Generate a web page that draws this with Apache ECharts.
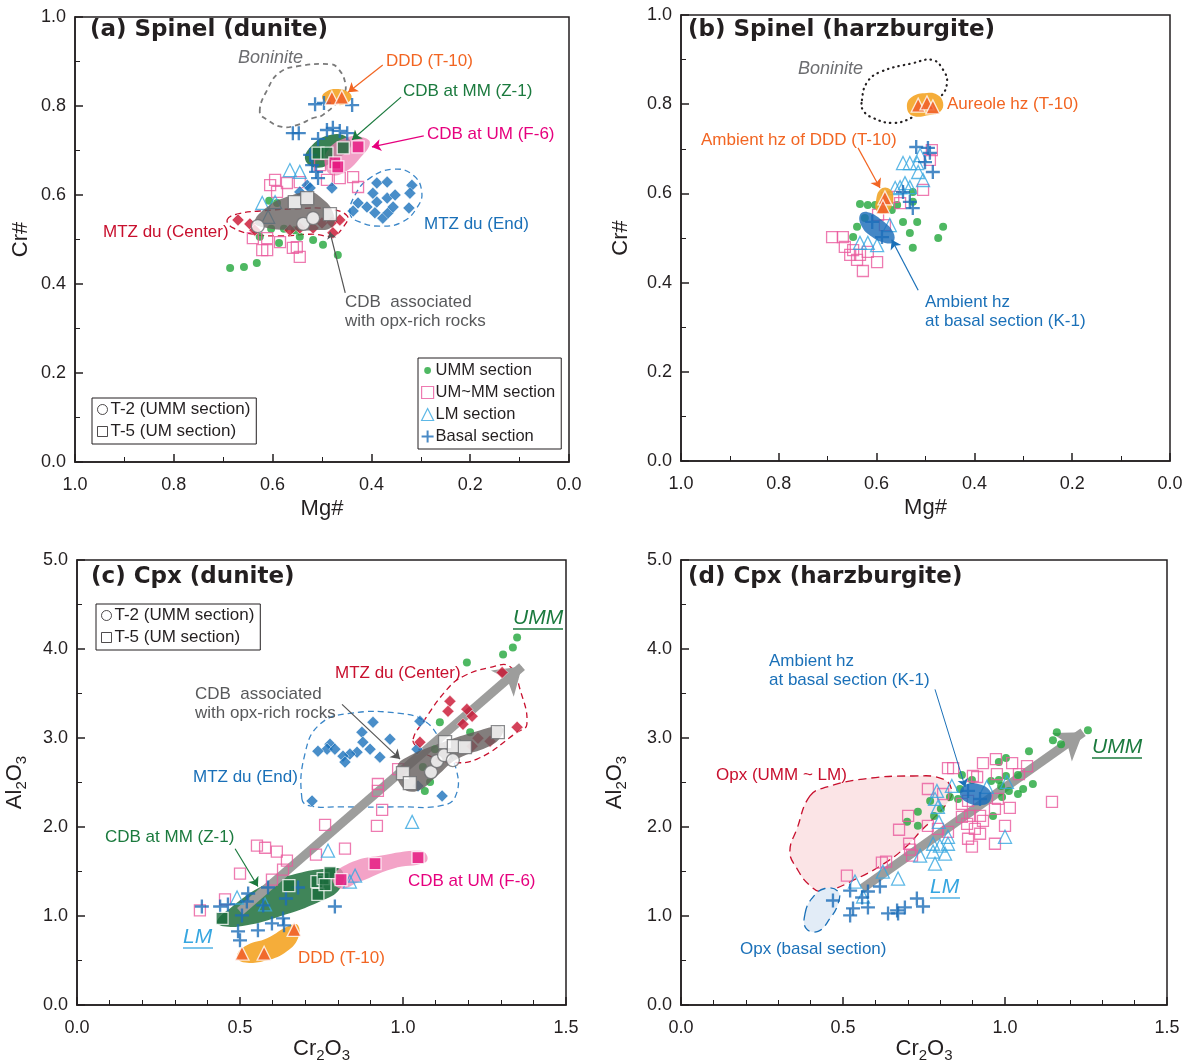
<!DOCTYPE html>
<html>
<head>
<meta charset="utf-8">
<script src="https://cdn.jsdelivr.net/npm/echarts@6/dist/echarts.min.js"></script>
<style>
  html, body { margin: 0; padding: 0; background: #fff; }
  #chart { width: 1194px; height: 1064px; }
</style>
</head>
<body>
<div id="chart"></div>
<script>
// ---------- (a) Spinel (dunite): [Mg#, Cr#] ----------
var aUMM = [[0.686,0.436],[0.658,0.438],[0.632,0.447],[0.607,0.587],[0.591,0.582],[0.603,0.524],[0.577,0.524],
  [0.626,0.506],[0.587,0.492],[0.545,0.506],[0.518,0.499],[0.498,0.488],[0.468,0.465],[0.555,0.521]];
var aUMMM = [[0.595,0.634],[0.571,0.627],[0.545,0.629],[0.490,0.634],[0.464,0.638],[0.437,0.640],[0.427,0.618],
  [0.611,0.503],[0.585,0.494],[0.611,0.476],[0.551,0.483],[0.545,0.461],[0.559,0.481],[0.591,0.607],[0.605,0.622],
  [0.474,0.672],[0.504,0.667],[0.640,0.503],[0.621,0.476]];
var aLM = [[0.565,0.656],[0.545,0.652],[0.621,0.582],[0.595,0.584],[0.609,0.551]];
var aBasal = [[0.514,0.804],[0.496,0.807],[0.439,0.802],[0.559,0.739],[0.547,0.739],[0.490,0.746],[0.478,0.751],
  [0.464,0.744],[0.449,0.739],[0.508,0.726],[0.524,0.690],[0.520,0.667],[0.512,0.652],[0.508,0.638]];
var aEnd = [[0.389,0.627],[0.368,0.629],[0.318,0.622],[0.397,0.604],[0.368,0.593],[0.352,0.600],[0.322,0.604],
  [0.427,0.582],[0.409,0.573],[0.389,0.584],[0.437,0.564],[0.393,0.560],[0.377,0.548],[0.366,0.560],[0.356,0.573],
  [0.324,0.571],[0.530,0.622],[0.524,0.616],[0.545,0.607],[0.480,0.616]];
var aCenter = [[0.670,0.544],[0.646,0.535],[0.636,0.521],[0.565,0.521],[0.545,0.526],[0.518,0.526],[0.500,0.537],
  [0.480,0.539],[0.464,0.544],[0.478,0.515]];
var aCdbMM = [[0.508,0.694],[0.490,0.694],[0.457,0.706]];
var aCdbUM = [[0.427,0.708],[0.474,0.672],[0.468,0.663]];
var aDDD = [[0.480,0.818],[0.460,0.820]];
var aT2 = [[0.630,0.530],[0.538,0.535],[0.518,0.548]];
var aT5 = [[0.555,0.584],[0.530,0.593],[0.484,0.557]];

var aBoninite = [[0.626,0.787],[0.611,0.836],[0.585,0.876],[0.545,0.890],[0.484,0.894],[0.468,0.885],[0.453,0.852],
  [0.457,0.825],[0.498,0.780],[0.518,0.773],[0.551,0.757],[0.581,0.753],[0.611,0.769]];
var aDDDzone = [[0.500,0.820],[0.490,0.833],[0.470,0.838],[0.448,0.832],[0.440,0.820],[0.450,0.806],[0.470,0.802],[0.490,0.807]];
var aCdbMMzone = [[0.534,0.679],[0.520,0.712],[0.484,0.735],[0.449,0.730],[0.443,0.706],[0.474,0.679],[0.508,0.661]];
var aCdbUMzone = [[0.488,0.701],[0.453,0.728],[0.419,0.730],[0.403,0.717],[0.423,0.683],[0.453,0.652],[0.480,0.645],[0.494,0.667]];
var aOpxZone = [[0.636,0.539],[0.611,0.573],[0.571,0.596],[0.524,0.607],[0.504,0.596],[0.478,0.562],[0.480,0.528],
  [0.518,0.521],[0.559,0.521],[0.611,0.526]];
var aCenterZone = [[0.692,0.544],[0.672,0.557],[0.626,0.564],[0.551,0.569],[0.490,0.569],[0.449,0.553],[0.457,0.528],
  [0.478,0.508],[0.518,0.512],[0.585,0.508],[0.640,0.512],[0.680,0.526]];
var aEndZone = [[0.443,0.557],[0.433,0.600],[0.403,0.638],[0.356,0.658],[0.316,0.645],[0.298,0.607],[0.308,0.571],
  [0.338,0.539],[0.383,0.530],[0.423,0.539]];

// ---------- (b) Spinel (harzburgite) ----------
var bUMM = [[0.634,0.576],[0.618,0.574],[0.603,0.574],[0.558,0.574],[0.526,0.603],[0.526,0.581],[0.569,0.563],
  [0.546,0.536],[0.517,0.536],[0.532,0.511],[0.464,0.525],[0.474,0.500],[0.526,0.478],[0.648,0.502],[0.640,0.525],[0.624,0.545]];
var bUMMM = [[0.691,0.502],[0.669,0.502],[0.665,0.480],[0.648,0.473],[0.654,0.462],[0.634,0.462],[0.640,0.451],
  [0.618,0.469],[0.599,0.446],[0.628,0.426],[0.579,0.590],[0.566,0.592],[0.552,0.578],[0.505,0.608],[0.491,0.675],
  [0.487,0.697],[0.597,0.552],[0.583,0.529]];
var bLM = [[0.546,0.668],[0.532,0.668],[0.517,0.668],[0.515,0.648],[0.542,0.623],[0.552,0.614],[0.562,0.612],
  [0.532,0.614],[0.505,0.630],[0.634,0.489],[0.618,0.489],[0.599,0.484],[0.573,0.529],[0.511,0.686]];
var bBasal = [[0.519,0.704],[0.495,0.702],[0.491,0.691],[0.501,0.670],[0.485,0.648],[0.546,0.603],[0.532,0.581],
  [0.526,0.567],[0.609,0.536],[0.589,0.502]];
var bDDD = [[0.515,0.798],[0.497,0.803],[0.485,0.794],[0.583,0.590],[0.587,0.570]];

var bBoninite = [[0.630,0.809],[0.620,0.848],[0.593,0.872],[0.526,0.892],[0.485,0.899],[0.464,0.877],[0.456,0.848],
  [0.470,0.816],[0.505,0.791],[0.526,0.771],[0.566,0.758],[0.607,0.769],[0.628,0.787]];
var bAureole = [[0.538,0.794],[0.528,0.816],[0.497,0.825],[0.476,0.821],[0.464,0.803],[0.470,0.783],[0.491,0.776],[0.526,0.774]];
var bAmbientDDD = [[0.601,0.585],[0.593,0.608],[0.577,0.612],[0.566,0.596],[0.573,0.563],[0.589,0.554],[0.601,0.563]];
var bAmbientK1 = [[0.634,0.552],[0.618,0.558],[0.589,0.540],[0.566,0.513],[0.566,0.491],[0.583,0.489],[0.609,0.502],[0.630,0.525]];

// ---------- (c) Cpx (dunite): [Cr2O3, Al2O3] ----------
var cUMM = [[1.350,4.128],[1.337,4.016],[1.307,3.937],[1.196,3.848],[1.113,3.177],[1.206,3.065],[1.098,2.875],
  [1.083,2.506],[1.067,2.405],[1.061,2.673]];
var cUMMM = [[0.985,2.651],[0.923,2.483],[0.923,2.405],[0.936,2.192],[0.761,2.025],[0.920,2.013],[0.822,1.756],
  [0.552,1.790],[0.577,1.767],[0.613,1.723],[0.644,1.622],[0.632,1.521],[0.500,1.477],[0.733,1.689],[0.598,1.409],
  [0.454,1.186],[0.377,1.063]];
var cLM = [[1.028,2.058],[0.770,1.734],[0.491,1.208],[0.577,1.130],[0.853,1.454],[0.837,1.387]];
var cBasal = [[0.383,1.107],[0.439,1.107],[0.463,1.130],[0.525,1.253],[0.521,1.163],[0.506,1.007],[0.571,1.119],
  [0.586,1.320],[0.641,1.197],[0.678,1.320],[0.494,0.828],[0.500,0.727],[0.555,0.839],[0.598,0.917],[0.632,0.973],
  [0.635,0.895],[0.791,1.107]];
var cEnd = [[0.908,3.177],[0.874,3.065],[0.776,2.931],[0.767,2.875],[0.739,2.852],[0.791,2.875],[0.877,2.953],
  [0.899,2.875],[0.859,2.841],[0.837,2.819],[0.816,2.796],[0.822,2.729],[0.929,2.785],[0.960,2.987],[1.052,3.188],
  [1.043,2.875],[1.046,2.461],[1.120,2.349],[0.721,2.293]];
var cCenter = [[1.304,3.736],[1.144,3.412],[1.138,3.300],[1.196,3.322],[1.212,3.244],[1.184,3.154],[1.350,3.121],
  [1.052,2.953],[1.230,2.998],[1.267,2.964],[1.212,2.908]];
var cCdbMM = [[0.445,0.973],[0.650,1.342],[0.736,1.387],[0.739,1.242],[0.755,1.421],[0.776,1.488],[0.761,1.353]];
var cCdbUM = [[0.810,1.409],[0.914,1.588],[1.046,1.655]];
var cDDD = [[0.506,0.582],[0.574,0.582],[0.666,0.850]];
var cT2 = [[1.086,2.617],[1.104,2.740],[1.126,2.808],[1.153,2.752]];
var cT5 = [[1.000,2.606],[1.021,2.494],[1.129,2.953],[1.156,2.908],[1.190,2.897],[1.291,3.065]];

var cOpxZone = [[0.982,2.673],[1.012,2.785],[1.123,2.953],[1.227,3.076],[1.298,3.132],[1.307,3.065],[1.276,2.931],
  [1.166,2.763],[1.104,2.573],[1.043,2.405],[0.997,2.450]];
var cCenterZone = [[1.031,2.987],[1.061,3.177],[1.135,3.546],[1.184,3.691],[1.267,3.792],[1.328,3.803],[1.359,3.546],
  [1.380,3.154],[1.350,3.065],[1.227,2.763],[1.144,2.729],[1.083,2.796],[1.043,2.897]];
var cEndZone = [[0.690,2.315],[0.699,2.819],[0.745,3.154],[0.837,3.277],[0.991,3.277],[1.067,3.188],[1.113,2.987],
  [1.163,2.651],[1.160,2.338],[1.113,2.237],[0.991,2.226],[0.807,2.226],[0.715,2.237]];
var cCdbMMzone = [[0.429,0.940],[0.469,1.085],[0.571,1.342],[0.675,1.477],[0.767,1.532],[0.813,1.510],[0.807,1.309],
  [0.745,1.163],[0.623,0.996],[0.521,0.895],[0.448,0.884]];
var cCdbUMzone = [[0.785,1.443],[0.847,1.611],[0.929,1.678],[1.052,1.734],[1.074,1.678],[1.067,1.600],[0.969,1.532],
  [0.868,1.387],[0.807,1.309]];
var cDDDzone = [[0.491,0.559],[0.521,0.671],[0.583,0.749],[0.653,0.895],[0.678,0.895],[0.678,0.749],[0.644,0.604],
  [0.583,0.503],[0.509,0.481]];

// ---------- (d) Cpx (harzburgite) ----------
var dUMM = [[1.256,3.087],[1.160,3.065],[1.148,2.975],[1.173,2.931],[1.074,2.852],[0.981,2.729],[1.003,2.774],
  [0.867,2.584],[0.898,2.528],[0.957,2.517],[0.981,2.528],[1.003,2.573],[1.040,2.584],[0.988,2.461],[1.012,2.405],
  [1.040,2.371],[1.056,2.427],[1.086,2.483],[0.991,2.338],[0.861,2.427],[0.855,2.315],[0.830,2.338],[0.769,2.293],
  [0.802,2.204],[0.781,2.125],[0.731,2.170],[0.731,2.013],[0.698,2.058],[0.963,2.125]];
var dUMMM = [[0.824,2.662],[0.840,2.662],[0.932,2.718],[0.972,2.763],[1.022,2.718],[1.068,2.685],[0.901,2.573],
  [0.914,2.562],[0.975,2.595],[1.043,2.595],[0.762,2.427],[0.809,2.371],[0.867,2.259],[0.886,2.293],[0.978,2.315],
  [1.015,2.215],[0.969,2.204],[0.867,2.114],[0.892,2.125],[0.923,2.125],[0.932,2.069],[0.883,2.036],[0.907,1.980],
  [0.923,1.924],[0.886,1.868],[0.898,1.779],[1.000,2.013],[0.969,1.812],[1.145,2.282],[0.701,2.125],[0.673,1.969],
  [0.762,2.013],[0.793,1.980],[0.824,1.946],[0.704,1.812],[0.707,1.745],[0.713,1.678],[0.620,1.600],[0.633,1.611],
  [0.512,1.454]];
var dLM = [[0.790,2.405],[0.836,2.461],[0.784,2.315],[0.793,2.226],[0.796,2.058],[0.824,1.890],[0.824,1.812],
  [0.778,1.812],[0.799,1.790],[0.738,1.678],[0.778,1.723],[0.815,1.700],[0.784,1.588],[0.670,1.421],[0.623,1.499],
  [0.537,1.387],[0.562,1.219],[1.006,2.506],[0.944,2.450],[1.000,1.890]];
var dBasal = [[0.469,1.174],[0.522,1.286],[0.577,1.275],[0.614,1.331],[0.559,1.208],[0.531,1.085],[0.522,1.007],
  [0.577,1.096],[0.639,1.029],[0.667,1.063],[0.691,1.096],[0.670,1.029],[0.728,1.197],[0.747,1.107],[0.886,2.405],[0.923,2.315]];

var dOpxZone = [[0.398,2.349],[0.451,2.450],[0.562,2.539],[0.716,2.573],[0.809,2.539],[0.836,2.405],[0.824,2.282],
  [0.778,2.092],[0.738,1.946],[0.698,1.790],[0.636,1.611],[0.543,1.421],[0.438,1.275],[0.398,1.342],[0.358,1.532],
  [0.336,1.723],[0.358,1.980]];
var dBasalOpx = [[0.383,1.029],[0.404,1.197],[0.444,1.309],[0.485,1.275],[0.485,1.141],[0.460,0.973],[0.423,0.828],[0.386,0.861]];
var dAmbientK1 = [[0.861,2.371],[0.877,2.472],[0.917,2.483],[0.954,2.405],[0.954,2.293],[0.929,2.248],[0.886,2.271]];

// trend arrows and pointer arrows [from, to]
var cTrend = [[0.500,1.051],[1.365,3.803]];
var dTrend = [[0.559,1.309],[1.241,3.065]];

var INK = '#231f20';
var FONT = 'Liberation Sans, Arial, sans-serif';
var PLUS = 'path://M5,0L7,0L7,5L12,5L12,7L7,7L7,12L5,12L5,7L0,7L0,5L5,5Z';
var DOT = 'path://M0,0M12,12M6,2.6A3.4,3.4,0,1,1,5.99,2.6Z';

var sty = {
  umm:   {symbol: 'circle', size: 8, item: {color: '#22a63b'}},
  ummm:  {symbol: 'rect', size: 11, item: {color: 'rgba(255,255,255,0)', borderColor: '#ea5a9d', borderWidth: 1.3}},
  lm:    {symbol: 'triangle', size: 13, item: {color: 'rgba(255,255,255,0)', borderColor: '#36a6e0', borderWidth: 1.3}},
  basal: {symbol: PLUS, size: 14, item: {color: '#1b6db8'}},
  end:   {symbol: 'diamond', size: 12, item: {color: '#1b72bb', borderColor: '#fff', borderWidth: 0.6}},
  center:{symbol: 'diamond', size: 12, item: {color: '#c9112f', borderColor: '#fff', borderWidth: 0.6}},
  cdbmm: {symbol: 'rect', size: 12, item: {color: '#1a6c3c', borderColor: '#fff', borderWidth: 1.3}},
  cdbum: {symbol: 'rect', size: 12, item: {color: '#e5177f', borderColor: '#fff', borderWidth: 1.3}},
  ddd:   {symbol: 'triangle', size: 14, item: {color: '#f0592a', borderColor: '#fff', borderWidth: 1.3}},
  t2:    {symbol: 'circle', size: 13, item: {color: '#fff', borderColor: '#6d6e71', borderWidth: 1.3}},
  t5:    {symbol: 'rect', size: 13, item: {color: '#fff', borderColor: '#6d6e71', borderWidth: 1.3}}
};

function pts(name, data, ax, s, z) {
  return {type: 'scatter', name: name, data: data, xAxisIndex: ax, yAxisIndex: ax,
    symbol: s.symbol, symbolSize: s.size, itemStyle: s.item, z: z || 3, silent: true};
}

function zone(poly, ax, style, z) {
  return {type: 'custom', xAxisIndex: ax, yAxisIndex: ax, z: z, silent: true, clip: false,
    data: [[poly[0][0], poly[0][1]]],
    renderItem: function (params, api) {
      return {type: 'polygon', shape: {points: poly.map(function (p) { return api.coord(p); }), smooth: 0.45},
        style: style};
    }};
}

function arrow(seg, ax, color, width, head, z) {
  return {type: 'lines', coordinateSystem: 'cartesian2d', xAxisIndex: ax, yAxisIndex: ax, z: z || 6, silent: true,
    symbol: ['none', 'arrow'], symbolSize: head, lineStyle: {color: color, width: width, opacity: 1, curveness: 0},
    data: [{coords: seg}]};
}

function baseAxis(grid) {
  return {gridIndex: grid, type: 'value',
    axisLine: {onZero: false, lineStyle: {color: INK, width: 1.5}},
    axisTick: {inside: true, length: 8, lineStyle: {color: INK, width: 1.5}},
    minorTick: {show: true, splitNumber: 2, length: 5, lineStyle: {color: INK, width: 1}},
    splitLine: {show: false}};
}
function mgAxis(grid) {
  var a = baseAxis(grid);
  a.min = 0; a.max = 1; a.interval = 0.2; a.inverse = true;
  a.name = 'Mg#'; a.nameLocation = 'middle'; a.nameGap = 36;
  a.nameTextStyle = {fontSize: 22, color: INK, fontFamily: FONT};
  a.axisLabel = {fontSize: 18, color: INK, fontFamily: FONT, margin: 14, formatter: function (v) { return v.toFixed(1); }};
  return a;
}
function crAxis(grid, gap) {
  var a = baseAxis(grid);
  a.min = 0; a.max = 1; a.interval = 0.2;
  a.name = 'Cr#'; a.nameLocation = 'middle'; a.nameGap = gap;
  a.nameTextStyle = {fontSize: 22, color: INK, fontFamily: FONT};
  a.axisLabel = {fontSize: 18, color: INK, fontFamily: FONT, margin: 9, formatter: function (v) { return v.toFixed(1); }};
  return a;
}
var subRich = {s: {fontSize: 15, color: INK, fontFamily: FONT, verticalAlign: 'bottom', lineHeight: 28}};
function crOxAxis(grid) {
  var a = baseAxis(grid);
  a.min = 0; a.max = 1.5; a.interval = 0.5;
  a.minorTick.splitNumber = 5;
  a.name = 'Cr{s|2}O{s|3}'; a.nameLocation = 'middle'; a.nameGap = 30;
  a.nameTextStyle = {fontSize: 22, color: INK, fontFamily: FONT, rich: subRich};
  a.axisLabel = {fontSize: 18, color: INK, fontFamily: FONT, margin: 14, formatter: function (v) { return v.toFixed(1); }};
  return a;
}
function alAxis(grid, gap) {
  var a = baseAxis(grid);
  a.min = 0; a.max = 5; a.interval = 1;
  a.name = 'Al{s|2}O{s|3}'; a.nameLocation = 'middle'; a.nameGap = gap;
  a.nameTextStyle = {fontSize: 22, color: INK, fontFamily: FONT, rich: subRich};
  a.axisLabel = {fontSize: 18, color: INK, fontFamily: FONT, margin: 9, formatter: function (v) { return v.toFixed(1); }};
  return a;
}

function txt(x, y, text, color, extra) {
  var st = {text: text, fill: color, fontSize: 17, fontFamily: FONT, align: 'left', verticalAlign: 'middle'};
  for (var k in extra) st[k] = extra[k];
  return {type: 'text', x: x, y: y, z: 100, silent: true, style: st};
}
function uline(x1, x2, y, color) {
  return {type: 'line', z: 100, silent: true, shape: {x1: x1, y1: y, x2: x2, y2: y}, style: {stroke: color, lineWidth: 1.3}};
}

var ORANGE = '#f26522', GREEN = '#1b7a3e', MAGENTA = '#e6007e', BLUE = '#1a70b8', RED = '#c8102e',
    GRAYT = '#58595b', LBLUE = '#36a6e0';
var title = {fontSize: 23, fontWeight: 'bold', fontFamily: 'DejaVu Sans, sans-serif'};
var ital = {fontSize: 18, fontStyle: 'italic'};
var big = {fontSize: 21, fontStyle: 'italic'};

var legendMain = {
  orient: 'vertical', left: 418, top: 358, selectedMode: false,
  itemWidth: 12, itemHeight: 12, itemGap: 5, padding: [4, 6, 4, 3],
  borderColor: INK, borderWidth: 1, backgroundColor: '#fff',
  textStyle: {fontSize: 16.5, color: INK, fontFamily: FONT, padding: [0, 0, 0, -3]},
  data: [
    {name: 'UMM section', icon: DOT, itemStyle: {color: '#22a63b'}},
    {name: 'UM~MM section', icon: 'rect', itemStyle: {color: '#fff', borderColor: '#ea5a9d', borderWidth: 1.2}},
    {name: 'LM section', icon: 'triangle', itemStyle: {color: '#fff', borderColor: '#36a6e0', borderWidth: 1.2}},
    {name: 'Basal section', icon: PLUS, itemStyle: {color: '#1b6db8'}}
  ]
};
function legendT(left, top) {
  return {
    orient: 'vertical', left: left, top: top, selectedMode: false,
    itemWidth: 10, itemHeight: 10, itemGap: 5, padding: [3, 6, 4, 5],
    borderColor: INK, borderWidth: 1, backgroundColor: '#fff',
    textStyle: {fontSize: 17, color: INK, fontFamily: FONT, padding: [0, 0, 0, -2]},
    data: [
      {name: 'T-2 (UMM section)', icon: 'circle', itemStyle: {color: '#fff', borderColor: INK, borderWidth: 1}},
      {name: 'T-5 (UM section)', icon: 'rect', itemStyle: {color: '#fff', borderColor: INK, borderWidth: 1}}
    ]
  };
}

var series = [
  // (a)
  zone(aBoninite, 0, {fill: 'none', stroke: '#7a7a7a', lineWidth: 1.8, lineDash: [5, 4]}, 1),
  zone(aCenterZone, 0, {fill: 'none', stroke: RED, lineWidth: 1.3, lineDash: [6, 4]}, 1),
  zone(aEndZone, 0, {fill: 'none', stroke: '#3a86c8', lineWidth: 1.3, lineDash: [6, 4]}, 1),
  zone(aDDDzone, 0, {fill: '#f5ad3a'}, 1),
  zone(aCdbMMzone, 0, {fill: 'rgba(30,112,60,0.88)'}, 1),
  zone(aCdbUMzone, 0, {fill: 'rgba(238,130,180,0.75)'}, 1),
  pts('UMM section', aUMM, 0, sty.umm),
  pts('UM~MM section', aUMMM, 0, sty.ummm),
  pts('LM section', aLM, 0, sty.lm),
  pts('Basal section', aBasal, 0, sty.basal),
  pts('MTZ du (End)', aEnd, 0, sty.end),
  pts('MTZ du (Center)', aCenter, 0, sty.center),
  zone(aOpxZone, 0, {fill: 'rgba(100,94,92,0.78)'}, 4),
  pts('CDB at MM (Z-1)', aCdbMM, 0, sty.cdbmm, 5),
  pts('CDB at UM (F-6)', aCdbUM, 0, sty.cdbum, 5),
  pts('DDD (T-10)', aDDD, 0, sty.ddd, 5),
  pts('T-2 (UMM section)', aT2, 0, sty.t2, 5),
  pts('T-5 (UM section)', aT5, 0, sty.t5, 5),
  arrow([[0.377,0.892],[0.447,0.831]], 0, ORANGE, 1.2, 9),
  arrow([[0.340,0.820],[0.439,0.724]], 0, GREEN, 1.2, 9),
  arrow([[0.294,0.733],[0.399,0.708]], 0, MAGENTA, 1.2, 9),
  arrow([[0.453,0.380],[0.484,0.517]], 0, '#555', 1.2, 7),

  // (b)
  zone(bBoninite, 1, {fill: 'none', stroke: INK, lineWidth: 2.2, lineDash: [0.5, 5], lineCap: 'round'}, 1),
  zone(bAureole, 1, {fill: '#f5ad3a'}, 2),
  pts('UMM section', bUMM, 1, sty.umm),
  pts('UM~MM section', bUMMM, 1, sty.ummm),
  pts('LM section', bLM, 1, sty.lm),
  pts('Basal section', bBasal, 1, sty.basal),
  zone(bAmbientDDD, 1, {fill: 'rgba(240,165,40,0.9)'}, 4),
  zone(bAmbientK1, 1, {fill: 'rgba(27,108,186,0.82)'}, 4),
  pts('DDD (T-10)', bDDD, 1, sty.ddd, 5),
  arrow([[0.638,0.702],[0.593,0.612]], 1, ORANGE, 1.2, 9),
  arrow([[0.515,0.383],[0.569,0.496]], 1, BLUE, 1.2, 9),

  // (c)
  zone(cCenterZone, 2, {fill: 'none', stroke: RED, lineWidth: 1.3, lineDash: [6, 4]}, 1),
  zone(cEndZone, 2, {fill: 'none', stroke: '#3a86c8', lineWidth: 1.3, lineDash: [6, 4]}, 1),
  zone(cCdbMMzone, 2, {fill: 'rgba(30,112,60,0.85)'}, 1),
  zone(cCdbUMzone, 2, {fill: 'rgba(240,140,185,0.8)'}, 1),
  zone(cDDDzone, 2, {fill: '#f5ad3a'}, 1),
  arrow(cTrend, 2, '#9d9d9c', 9, 26, 2),
  pts('UMM section', cUMM, 2, sty.umm),
  pts('UM~MM section', cUMMM, 2, sty.ummm),
  pts('LM section', cLM, 2, sty.lm),
  pts('Basal section', cBasal, 2, sty.basal),
  pts('MTZ du (End)', cEnd, 2, sty.end),
  pts('MTZ du (Center)', cCenter, 2, sty.center),
  zone(cOpxZone, 2, {fill: 'rgba(100,94,92,0.8)'}, 4),
  pts('CDB at MM (Z-1)', cCdbMM, 2, sty.cdbmm, 5),
  pts('CDB at UM (F-6)', cCdbUM, 2, sty.cdbum, 5),
  pts('DDD (T-10)', cDDD, 2, sty.ddd, 5),
  pts('T-2 (UMM section)', cT2, 2, sty.t2, 5),
  pts('T-5 (UM section)', cT5, 2, sty.t5, 5),
  arrow([[0.813,3.378],[0.991,2.763]], 2, '#555', 1.2, 9),
  arrow([[0.485,1.756],[0.555,1.331]], 2, GREEN, 1.2, 9),

  // (d)
  zone(dOpxZone, 3, {fill: '#fbe4e6', stroke: RED, lineWidth: 1.3, lineDash: [8, 5]}, 1),
  zone(dBasalOpx, 3, {fill: '#e2ecf7', stroke: BLUE, lineWidth: 1.3, lineDash: [8, 5]}, 1),
  arrow(dTrend, 3, '#9d9d9c', 9, 26, 2),
  pts('UMM section', dUMM, 3, sty.umm),
  pts('UM~MM section', dUMMM, 3, sty.ummm),
  pts('LM section', dLM, 3, sty.lm),
  pts('Basal section', dBasal, 3, sty.basal),
  zone(dAmbientK1, 3, {fill: 'rgba(27,108,186,0.82)'}, 4),
  arrow([[0.784,3.546],[0.877,2.450]], 3, BLUE, 1, 8)
];

var graphic = [
  // (a)
  txt(90, 30, '(a) Spinel (dunite)', INK, title),
  txt(238, 58, 'Boninite', '#6d6e71', ital),
  txt(386, 61, 'DDD (T-10)', ORANGE),
  txt(403, 91, 'CDB at MM (Z-1)', GREEN),
  txt(427, 134, 'CDB at UM (F-6)', MAGENTA),
  txt(424, 224, 'MTZ du (End)', BLUE),
  txt(103, 232, 'MTZ du (Center)', RED),
  txt(345, 302, 'CDB  associated', GRAYT),
  txt(345, 321, 'with opx-rich rocks', GRAYT),
  // (b)
  txt(688, 30, '(b) Spinel (harzburgite)', INK, title),
  txt(798, 69, 'Boninite', '#6d6e71', ital),
  txt(947, 104, 'Aureole hz (T-10)', ORANGE),
  txt(701, 140, 'Ambient hz of DDD (T-10)', ORANGE),
  txt(925, 302, 'Ambient hz', BLUE),
  txt(925, 321, 'at basal section (K-1)', BLUE),
  // (c)
  txt(91, 577, '(c) Cpx (dunite)', INK, title),
  txt(513, 618, 'UMM', GREEN, big),
  uline(513, 563, 629, GREEN),
  txt(335, 673, 'MTZ du (Center)', RED),
  txt(195, 694, 'CDB  associated', GRAYT),
  txt(195, 713, 'with opx-rich rocks', GRAYT),
  txt(193, 777, 'MTZ du (End)', BLUE),
  txt(105, 837, 'CDB at MM (Z-1)', GREEN),
  txt(408, 881, 'CDB at UM (F-6)', MAGENTA),
  txt(183, 937, 'LM', LBLUE, big),
  uline(183, 213, 948, LBLUE),
  txt(298, 958, 'DDD (T-10)', ORANGE),
  // (d)
  txt(688, 577, '(d) Cpx (harzburgite)', INK, title),
  txt(769, 661, 'Ambient hz', BLUE),
  txt(769, 680, 'at basal section (K-1)', BLUE),
  txt(1092, 747, 'UMM', GREEN, big),
  uline(1092, 1142, 758, GREEN),
  txt(716, 775, 'Opx (UMM ~ LM)', RED),
  txt(930, 887, 'LM', LBLUE, big),
  uline(930, 960, 898, LBLUE),
  txt(740, 949, 'Opx (basal section)', BLUE)
];

var gridBase = {show: true, borderColor: INK, borderWidth: 1.5, backgroundColor: 'rgba(0,0,0,0)'};
function grid(l, t, w, h) {
  var g = {left: l, top: t, width: w, height: h};
  for (var k in gridBase) g[k] = gridBase[k];
  return g;
}

var myChart = echarts.init(document.getElementById('chart'), null, {renderer: 'canvas'});
var option = {
  animation: false,
  backgroundColor: '#fff',
  textStyle: {fontFamily: FONT},
  grid: [grid(75, 17, 494, 445), grid(681, 15, 489, 446), grid(77, 560, 489, 447), grid(681, 560, 486, 447)],
  xAxis: [mgAxis(0), mgAxis(1), crOxAxis(2), crOxAxis(3)],
  yAxis: [crAxis(0, 43), crAxis(1, 49), alAxis(2, 48), alAxis(3, 52)],
  legend: [legendMain, legendT(92, 398), legendT(96, 604)],
  graphic: graphic,
  series: series
};
myChart.setOption(option);
</script>
</body>
</html>
